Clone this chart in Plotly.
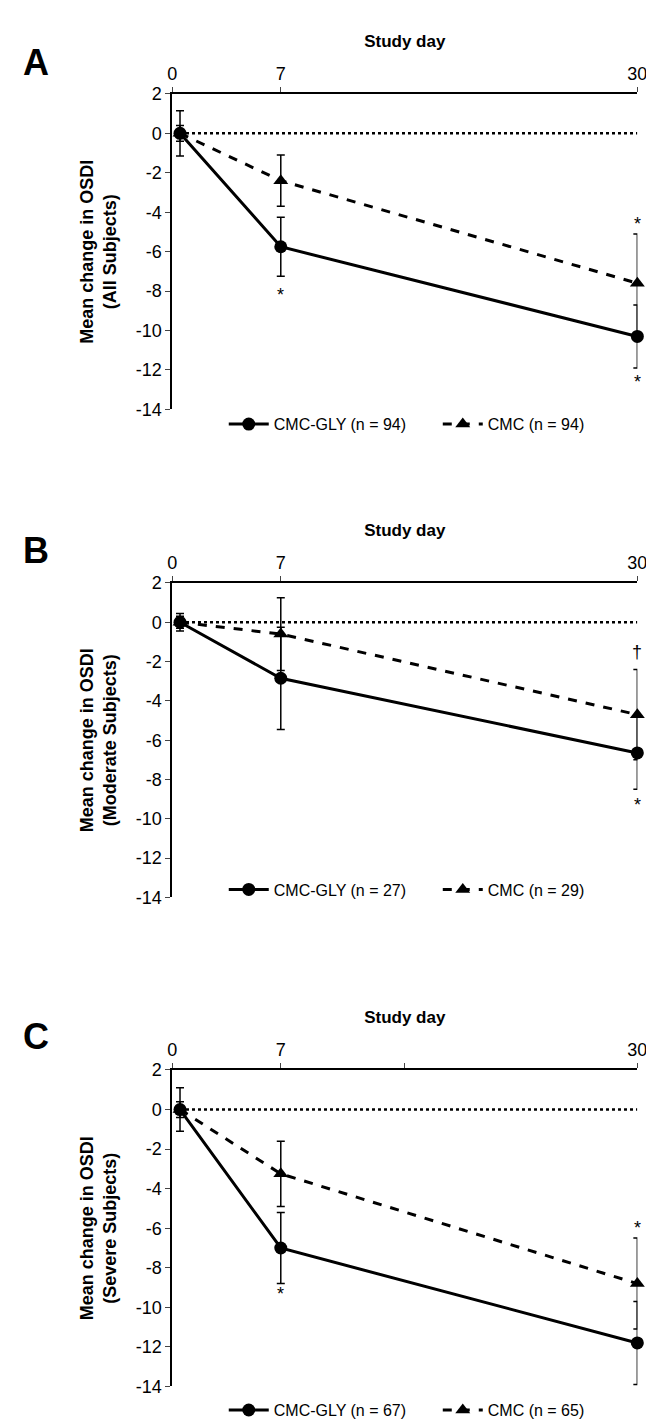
import plotly.graph_objects as go

W, H = 654, 1421

days = [0.5, 7, 30]
panels = ["A", "B", "C"]
subjects = ["All Subjects", "Moderate Subjects", "Severe Subjects"]
gly_n = [94, 27, 67]
cmc_n = [94, 29, 65]

gly_mean = [[0, -5.75, -10.3], [0, -2.85, -6.65], [0, -7.0, -11.8]]
gly_err = [[1.15, 1.5, 1.6], [0.45, 2.6, 1.85], [1.1, 1.8, 2.1]]
cmc_mean = [[0, -2.4, -7.6], [0, -0.6, -4.7], [0, -3.25, -8.8]]
cmc_err = [[0.4, 1.3, 2.5], [0.3, 1.85, 2.3], [0.4, 1.65, 2.3]]

y_ticks = [2, 0, -2, -4, -6, -8, -10, -12, -14]
y_ticklabels = ["2", "0", "-2", "-4", "-6", "-8", "-10", "-12", "-14"]

# significance marks: (panel, day, y, text)
marks = [
    (0, 7, -8.2, "*"), (0, 30, -12.6, "*"), (0, 30, -4.6, "*"),
    (1, 30, -9.3, "*"), (1, 30, -1.5, "†"),
    (2, 7, -9.35, "*"), (2, 30, -14.9, "*"), (2, 30, -6.0, "*"),
]

# pixel positions of each panel's plot area (top, bottom)
tops = [77, 573, 1067]
bottoms = [397, 892, 1388]
x0, x1 = 163, 639
legend_y = [412, 884, 1412]
label_y = [45, 540, 1033]

FONT = "Liberation Sans, Arial, sans-serif"
fig = go.Figure()

for i in range(3):
    xa = "x" if i == 0 else f"x{i+1}"
    ya = "y" if i == 0 else f"y{i+1}"
    lg = "legend" if i == 0 else f"legend{i+1}"
    fig.add_trace(go.Scatter(
        x=days, y=gly_mean[i], xaxis=xa, yaxis=ya, legend=lg,
        name=f"CMC-GLY (n = {gly_n[i]})      ", mode="lines+markers",
        line=dict(color="black", width=3),
        marker=dict(symbol="circle", size=13, color="black"),
        error_y=dict(type="data", array=gly_err[i], color="black", thickness=1.5, width=4),
        cliponaxis=False))
    fig.add_trace(go.Scatter(
        x=days, y=cmc_mean[i], xaxis=xa, yaxis=ya, legend=lg,
        name=f"CMC (n = {cmc_n[i]})", mode="lines+markers",
        line=dict(color="black", width=3, dash="dash"),
        marker=dict(symbol="triangle-up", size=13, color="black"),
        error_y=dict(type="data", array=cmc_err[i], color="black", thickness=1.5, width=4),
        cliponaxis=False))
    fig.add_shape(type="line", xref=xa, yref=ya, x0=0.5, x1=30, y0=0, y1=0,
                  line=dict(color="black", width=2.5, dash="dot"))

    dom_y = [1 - bottoms[i] / H, 1 - tops[i] / H]
    tickvals = [0, 7, 15, 30] if i == 2 else [0, 7, 30]
    ticktext = ["0", "7", "", "30"] if i == 2 else ["0", "7", "30"]
    fig.update_layout(**{
        ("xaxis" if i == 0 else f"xaxis{i+1}"): dict(
            domain=[x0 / W, x1 / W], range=[0, 30], anchor=ya, side="top",
            tickvals=tickvals, ticktext=ticktext, ticks="outside", ticklen=5,
            showline=True, linecolor="black", linewidth=2, showgrid=False,
            zeroline=False, tickfont=dict(size=18, color="black"),
            title=dict(text="<b>Study day</b>", font=dict(size=17, color="black"), standoff=12)),
        ("yaxis" if i == 0 else f"yaxis{i+1}"): dict(
            domain=dom_y, range=[-14, 2], anchor=xa,
            tickvals=y_ticks, ticktext=y_ticklabels, ticks="outside",
            ticklen=5, showline=True, linecolor="black", linewidth=2,
            showgrid=False, zeroline=False, tickfont=dict(size=18, color="black"),
            title=dict(text=f"<b>Mean change in OSDI<br>({subjects[i]})</b>",
                       font=dict(size=18, color="black"), standoff=14)),
        lg: dict(orientation="h", x=(x0 + 240) / W, xanchor="center",
                 y=1 - legend_y[i] / H, yanchor="middle", bgcolor="rgba(0,0,0,0)",
                 font=dict(size=16, color="black"), itemwidth=40, tracegroupgap=0),
    })
    fig.add_annotation(x=8 / W, y=1 - label_y[i] / H, xref="paper", yref="paper",
                       text=f"<b>{panels[i]}</b>", showarrow=False,
                       xanchor="left", yanchor="middle",
                       font=dict(size=36, color="black"))

for p, d, yv, t in marks:
    xa = "x" if p == 0 else f"x{p+1}"
    ya = "y" if p == 0 else f"y{p+1}"
    fig.add_annotation(x=d, y=yv, xref=xa, yref=ya, text=t, showarrow=False,
                       font=dict(size=18, color="black"))

fig.update_layout(width=W, height=H, margin=dict(l=0, r=0, t=0, b=0),
                  paper_bgcolor="white", plot_bgcolor="white",
                  font=dict(family=FONT, color="black"))
fig.write_html("out.html")
